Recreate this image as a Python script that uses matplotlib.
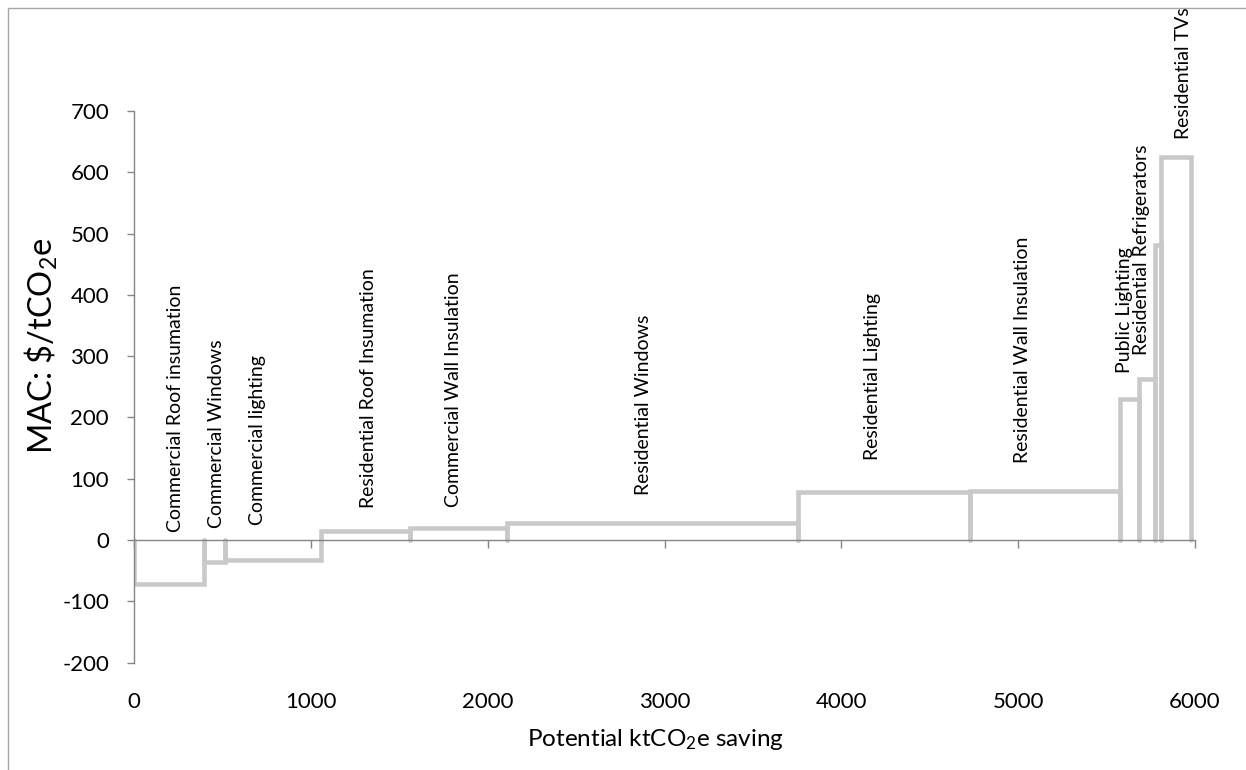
import numpy as np
import matplotlib.pyplot as plt
from matplotlib.patches import Rectangle

# marginal abatement cost curve
measures = [
    "Commercial Roof insumation",
    "Commercial Windows",
    "Commercial lighting",
    "Residential Roof Insumation",
    "Commercial Wall Insulation",
    "Residential Windows",
    "Residential Lighting",
    "Residential Wall Insulation",
    "Public Lighting",
    "Residential Refrigerators",
    "",
    "Residential TVs",
]
saving = [395, 119, 542, 506, 550, 1643, 975, 847, 107, 92, 29, 175]   # ktCO2e
mac = [-72, -36, -33, 14, 20, 28, 78, 80, 230, 262, 482, 625]          # $/tCO2e

x_ticks = [0, 1000, 2000, 3000, 4000, 5000, 6000]
y_ticks = [-200, -100, 0, 100, 200, 300, 400, 500, 600, 700]

# where each rotated label sits (x, y of its lower end, data units)
label_pos = [(232, 13), (469, 20), (696, 24), (1324, 52), (1804, 54),
             (2879, 73), (4174, 130), (5023, 125), (5600, 272),
             (5700, 302), (5790, 0), (5935, 655)]

plt.rcParams.update({
    "font.family": "Lato",
    "mathtext.fontset": "custom",
    "mathtext.rm": "Lato",
    "mathtext.it": "Lato:italic",
    "axes.unicode_minus": False,
})

BAR = "#c9c9c9"
AXIS = "#868686"

fig = plt.figure(figsize=(12.46, 7.70), dpi=100)
ax = fig.add_axes([134 / 1246, 1 - 662.6 / 770, 1061 / 1246, 551.6 / 770])

# open boxes: up from zero, across, back down to zero
left = np.concatenate([[0], np.cumsum(saving)[:-1]])
for l, w, v in zip(left, saving, mac):
    ax.plot([l, l, l + w, l + w], [0, v, v, 0], color=BAR, lw=3.3,
            solid_joinstyle="miter", solid_capstyle="round", zorder=2)

for name, (lx, ly) in zip(measures, label_pos):
    if name:
        ax.text(lx, ly, name, rotation=90, ha="center", va="bottom",
                fontsize=14, clip_on=False)

ax.set_xlim(0, 6000)
ax.set_ylim(-200, 700)
ax.set_xticks(x_ticks)
ax.set_yticks(y_ticks)

for s in ["top", "right"]:
    ax.spines[s].set_visible(False)
ax.spines["bottom"].set_position(("data", 0))
for s in ["left", "bottom"]:
    ax.spines[s].set_color(AXIS)
    ax.spines[s].set_linewidth(1.0)
    ax.spines[s].set_zorder(3)

ax.tick_params(axis="x", direction="out", length=6, width=1, color=AXIS,
               labelbottom=False)
ax.tick_params(axis="y", direction="out", length=5, width=1, color=AXIS,
               labelsize=16, pad=13)

# x tick labels sit below the plot, not at the zero line
sec = ax.secondary_xaxis("bottom")
sec.set_xticks(x_ticks)
sec.spines["bottom"].set_visible(False)
sec.tick_params(length=0, pad=21, labelsize=16)

fig.text(41 / 1246, 1 - 346 / 770, r"MAC: \$/tCO$_2$e", rotation=90,
         ha="center", va="center", fontsize=23.5)
fig.text(655 / 1246, 1 - 740 / 770, r"Potential ktCO$_2$e saving",
         ha="center", va="center", fontsize=17.5)

# chart-area border
fig.patches.append(Rectangle((8 / 1246, -0.5), 2, 0.5 + 1 - 8 / 770,
                             transform=fig.transFigure, fill=False,
                             edgecolor="#a6a6a6", lw=1.0))

fig.savefig("out.png", dpi=100)
